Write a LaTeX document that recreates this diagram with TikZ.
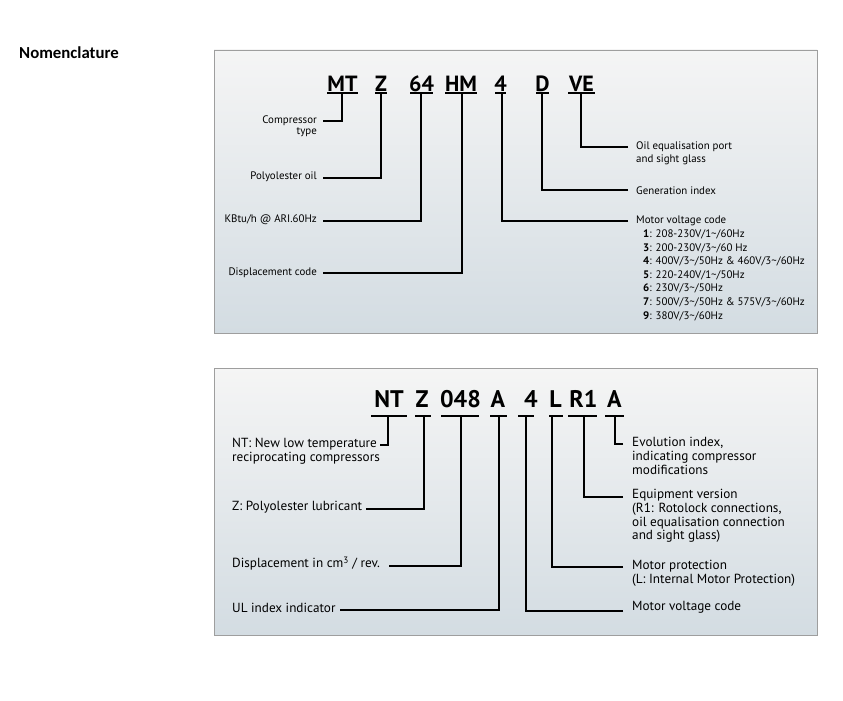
\documentclass[tikz,border=0pt]{standalone}
\usepackage{fontspec}
\setmainfont{PT Sans}
\newfontfamily\titlefont{Carlito}
\begin{document}
\begin{tikzpicture}[x=1pt,y=-1pt,
  panel/.style={draw=black!38,line width=0.9pt,top color=white!96!black,bottom color=gray0},
  codeA/.style={inner sep=0pt,anchor=base,font=\bfseries\fontsize{22}{24}\selectfont},
  codeB/.style={inner sep=0pt,anchor=base,font=\bfseries\fontsize{24}{26}\selectfont},
  lblA/.style={inner sep=0pt,font=\fontsize{10.9}{11.2}\selectfont},
  lblB/.style={inner sep=0pt,font=\fontsize{13.2}{13.8}\selectfont},
  ulA/.style={line width=1.4pt},
  ulB/.style={line width=1.5pt},
  connA/.style={line width=1.2pt},
  connB/.style={line width=1.4pt}]
\definecolor{gray0}{HTML}{D3DCE2}
\useasboundingbox (0,0) rectangle (843,701);
\fill[white] (0,0) rectangle (843,701);
\node[inner sep=0pt,anchor=base west,font=\titlefont\bfseries\fontsize{16.8}{18}\selectfont] (title) at (19,59) {Nomenclature};
% ---------- panel 1
\path[panel] (214,50) rectangle (817,333);
\node[codeA] (mt) at (342.5,91) {MT};
\node[codeA] (z1) at (381,91) {Z};
\node[codeA] (c64) at (421.5,91) {64};
\node[codeA] (hm) at (461,91) {HM};
\node[codeA] (v4) at (500.5,91) {4};
\node[codeA] (d) at (542.5,91) {D};
\node[codeA] (ve) at (581.5,91) {VE};
\draw[ulA] (327,93) -- (358,93);
\draw[ulA] (375,93) -- (387,93);
\draw[ulA] (410,93) -- (433,93);
\draw[ulA] (445,93) -- (477,93);
\draw[ulA] (495,93) -- (506,93);
\draw[ulA] (536,93) -- (549,93);
\draw[ulA] (568,93) -- (595,93);
\coordinate (umt) at (342,93);
\coordinate (uz1) at (381,93);
\coordinate (u64) at (421,93);
\coordinate (uhm) at (462,93);
\coordinate (uv4) at (502,93);
\coordinate (ud) at (542,93);
\coordinate (uve) at (581,93);
\node[lblA,anchor=north east,align=right] (lct) at (317,115.5) {Compressor\\type};
\node[lblA,anchor=east] (lpo) at (317,177) {Polyolester oil};
\node[lblA,anchor=east] (lkb) at (317,219.5) {KBtu/h @ ARI.60Hz};
\node[lblA,anchor=east] (ldc) at (317,272.5) {Displacement code};
\coordinate (act) at (323,121);
\coordinate (apo) at (323,178);
\coordinate (akb) at (323,221);
\coordinate (adc) at (323,273);
\draw[connA] (act) -| (umt);
\draw[connA] (apo) -| (uz1);
\draw[connA] (akb) -| (u64);
\draw[connA] (adc) -| (uhm);
\node[lblA,anchor=north west,align=left,font=\fontsize{10.9}{13}\selectfont] (loe) at (636,142) {Oil equalisation port\\and sight glass};
\node[lblA,anchor=west] (lgi) at (636,190.5) {Generation index};
\node[lblA,anchor=north west,align=left,font=\fontsize{10.9}{13.6}\selectfont] (lmv) at (636,216) {Motor voltage code\\
\hspace{7pt}\textbf{1}: 208-230V/1\textasciitilde/60Hz\\
\hspace{7pt}\textbf{3}: 200-230V/3\textasciitilde/60 Hz\\
\hspace{7pt}\textbf{4}: 400V/3\textasciitilde/50Hz \& 460V/3\textasciitilde/60Hz\\
\hspace{7pt}\textbf{5}: 220-240V/1\textasciitilde/50Hz\\
\hspace{7pt}\textbf{6}: 230V/3\textasciitilde/50Hz\\
\hspace{7pt}\textbf{7}: 500V/3\textasciitilde/50Hz \& 575V/3\textasciitilde/60Hz\\
\hspace{7pt}\textbf{9}: 380V/3\textasciitilde/60Hz};
\coordinate (aoe) at (628,147);
\coordinate (agi) at (628,190);
\coordinate (amv) at (628,221);
\draw[connA] (aoe) -| (uve);
\draw[connA] (agi) -| (ud);
\draw[connA] (amv) -| (uv4);
% ---------- panel 2
\path[panel] (214,368) rectangle (817,635);
\node[codeB] (nt) at (389,407) {NT};
\node[codeB] (z2) at (422,407) {Z};
\node[codeB] (c048) at (460.5,407) {048};
\node[codeB] (a1) at (498,407) {A};
\node[codeB] (b4) at (531,407) {4};
\node[codeB] (l) at (555.5,407) {L};
\node[codeB] (r1) at (583.5,407) {R1};
\node[codeB] (a2) at (614.5,407) {A};
\draw[ulB] (371,416) -- (407,416);
\draw[ulB] (415,416) -- (431,416);
\draw[ulB] (441,416) -- (479,416);
\draw[ulB] (490,416) -- (507,416);
\draw[ulB] (518,416) -- (534,416);
\draw[ulB] (549,416) -- (563,416);
\draw[ulB] (568,416) -- (597,416);
\draw[ulB] (605,416) -- (624,416);
\coordinate (unt) at (388,416);
\coordinate (uz2) at (424,416);
\coordinate (u048) at (461,416);
\coordinate (ua1) at (499,416);
\coordinate (ub4) at (526,416);
\coordinate (ul) at (552,416);
\coordinate (ur1) at (584,416);
\coordinate (ua2) at (615,416);
\node[lblB,anchor=north west,align=left] (lnt) at (232,438) {NT: New low temperature\\reciprocating compressors};
\node[lblB,anchor=west] (lpl) at (232,507) {Z: Polyolester lubricant};
\node[lblB,anchor=west] (ldi) at (232,563.5) {Displacement in cm\textsuperscript{3} / rev.};
\node[lblB,anchor=west] (lul) at (232,607.5) {UL index indicator};
\coordinate (bnt) at (380,445);
\coordinate (bpl) at (366,509);
\coordinate (bdi) at (389,566);
\coordinate (bul) at (340,610);
\draw[connB] (bnt) -| (unt);
\draw[connB] (bpl) -| (uz2);
\draw[connB] (bdi) -| (u048);
\draw[connB] (bul) -| (ua1);
\node[lblB,anchor=north west,align=left] (lev) at (632,437) {Evolution index,\\indicating compressor\\modifications};
\node[lblB,anchor=north west,align=left] (leq) at (632,489) {Equipment version\\(R1: Rotolock connections,\\oil equalisation connection\\and sight glass)};
\node[lblB,anchor=north west,align=left] (lmp) at (632,560) {Motor protection\\(L: Internal Motor Protection)};
\node[lblB,anchor=west] (lmc) at (632,607.5) {Motor voltage code};
\coordinate (bev) at (623,444);
\coordinate (beq) at (623,497);
\coordinate (bmp) at (623,567);
\coordinate (bmc) at (623,611);
\draw[connB] (bev) -| (ua2);
\draw[connB] (beq) -| (ur1);
\draw[connB] (bmp) -| (ul);
\draw[connB] (bmc) -| (ub4);
\end{tikzpicture}
\end{document}
